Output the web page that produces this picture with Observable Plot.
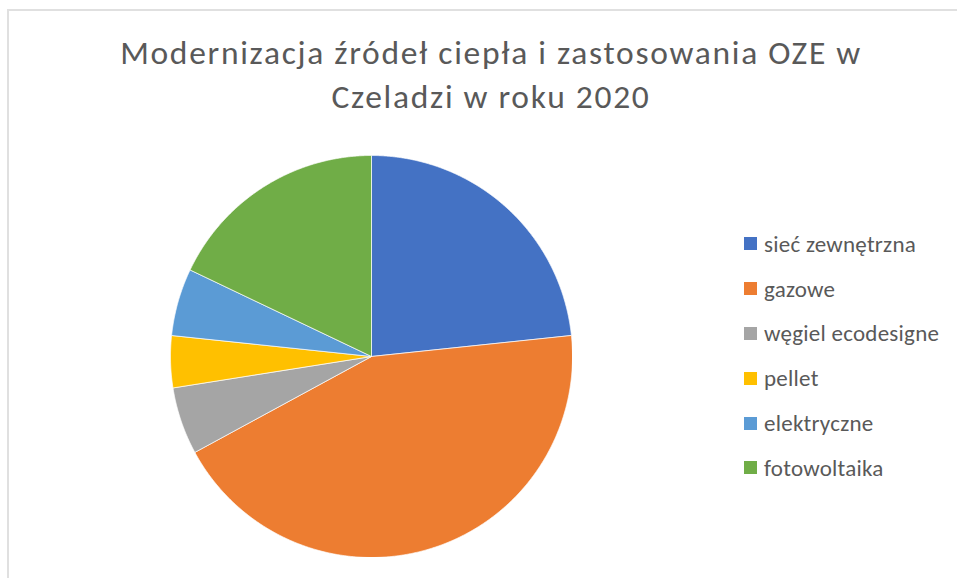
<!DOCTYPE html>
<html>
<head>
<meta charset="utf-8">
<script src="https://cdn.jsdelivr.net/npm/d3@7"></script>
<script src="https://cdn.jsdelivr.net/npm/@observablehq/plot@0.6"></script>
<style>
  html, body { margin: 0; padding: 0; background: #fff; }
  #wrap { position: relative; width: 957px; height: 578px; overflow: hidden; background: #fff; font-family: Carlito, Calibri, Lato, "Open Sans", sans-serif; }
  #frame { position: absolute; left: 7px; top: 9px; width: 1000px; height: 1000px; border: 2px solid #e0e0e0; box-sizing: border-box; }
  #title { position: absolute; left: 0; top: 31px; width: 982px; text-align: center; color: #595959; font-size: 33.5px; line-height: 44px; letter-spacing: 1.7px; }
  #pie { position: absolute; left: 170px; top: 155px; }
  #legend { position: absolute; left: 744px; top: 221.5px; color: #595959; font-size: 23px; letter-spacing: 0.25px; }
  .item { display: flex; align-items: center; height: 44.8px; }
  .sw { width: 13px; height: 13px; margin-right: 7px; }
</style>
</head>
<body>
<div id="wrap">
  <div id="frame"></div>
  <div id="title">Modernizacja źródeł ciepła i zastosowania OZE w<br>Czeladzi w roku 2020</div>
  <div id="pie"></div>
  <div id="legend"></div>
</div>
<script>
const categories = ["sieć zewnętrzna", "gazowe", "węgiel ecodesigne", "pellet", "elektryczne", "fotowoltaika"];
const values = [56, 105, 13, 10, 13, 43];
const colors = ["#4472C4", "#ED7D31", "#A5A5A5", "#FFC000", "#5B9BD5", "#70AD47"];

const arcs = d3.pie().sort(null).value(d => d.value)(categories.map((c, i) => ({cat: c, value: values[i]})));
const pts = [];
for (const a of arcs) {
  const cat = a.data.cat;
  pts.push({cat, x: 0, y: 0});
  const n = Math.max(2, Math.ceil((a.endAngle - a.startAngle) / 0.005));
  for (let k = 0; k <= n; k++) {
    const t = a.startAngle + (a.endAngle - a.startAngle) * k / n;
    pts.push({cat, x: Math.sin(t), y: Math.cos(t)});
  }
  pts.push({cat, x: 0, y: 0});
}

const chart = Plot.plot({
  width: 402, height: 402, margin: 0,
  x: {domain: [-1, 1], axis: null},
  y: {domain: [-1, 1], axis: null},
  color: {domain: categories, range: colors},
  marks: [
    Plot.line(pts, {x: "x", y: "y", z: "cat", fill: "cat", stroke: "#fff", strokeWidth: 0.7, curve: "linear"})
  ]
});
document.getElementById("pie").appendChild(chart);

const leg = document.getElementById("legend");
categories.forEach((c, i) => {
  const it = document.createElement("div");
  it.className = "item";
  const sw = document.createElement("div");
  sw.className = "sw";
  sw.style.background = colors[i];
  const tx = document.createElement("span");
  tx.textContent = c;
  it.appendChild(sw); it.appendChild(tx);
  leg.appendChild(it);
});
</script>
</body>
</html>
